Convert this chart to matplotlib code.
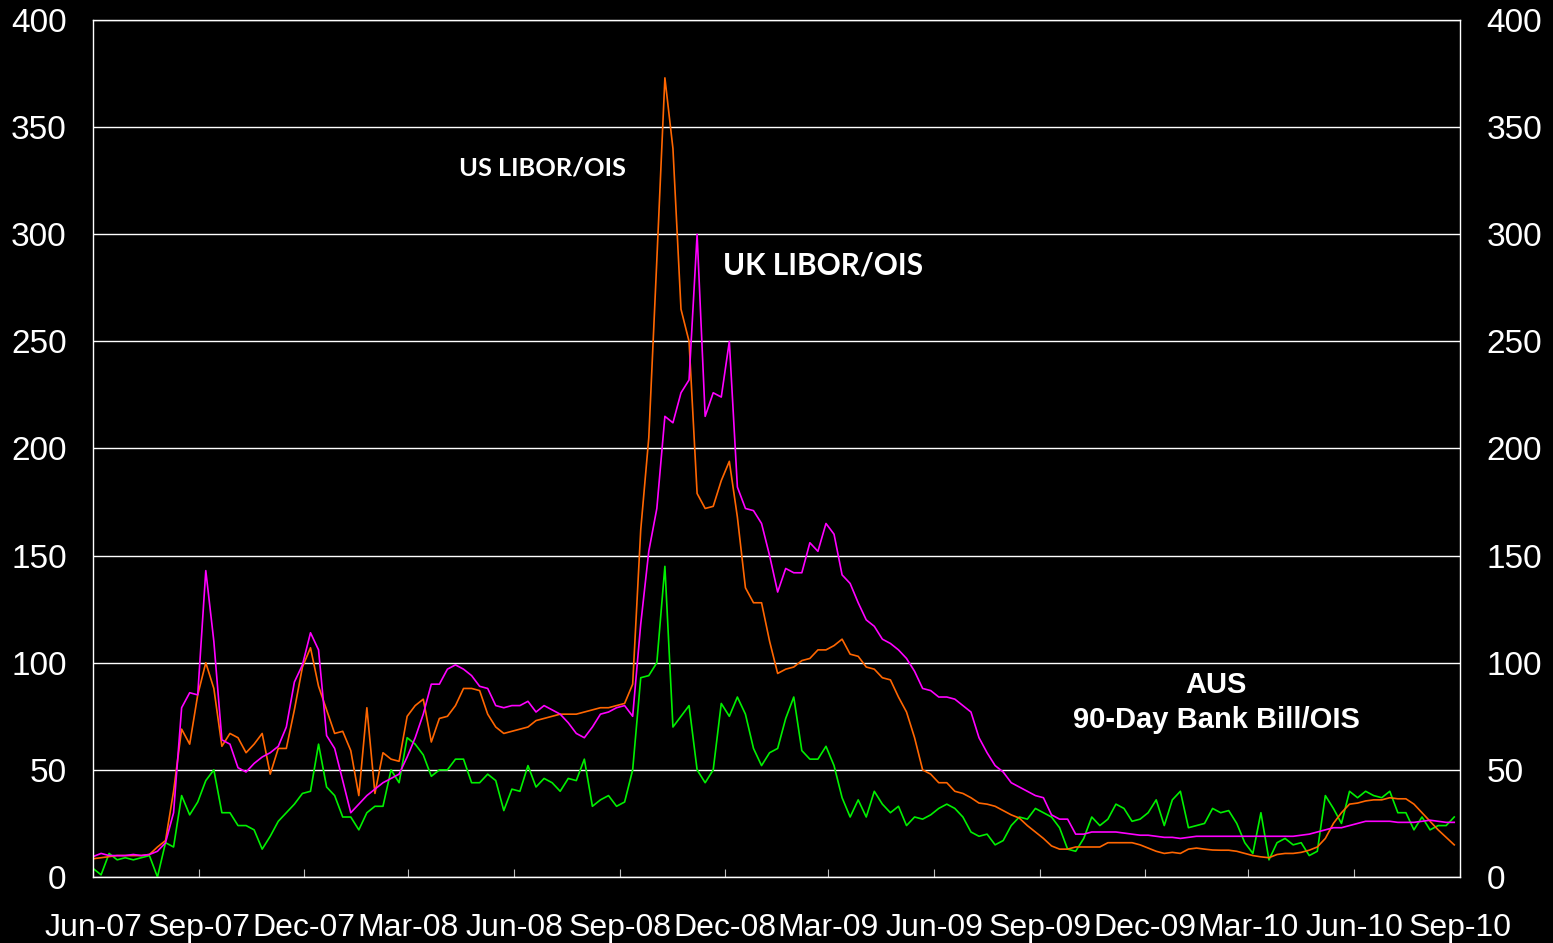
import numpy as np
import pandas as pd
import matplotlib
matplotlib.use('Agg')
import matplotlib.pyplot as plt
import matplotlib.dates as mdates

# weekly readings (bp), starting 1 Jun 2007
us_libor_ois = [8.5, 9, 9.5, 10, 10, 10, 10, 10.5, 14, 17,
                40, 69, 62, 85, 100, 88, 61, 67, 65, 58,
                62, 67, 48, 60, 60, 78, 98, 107, 89, 78,
                67, 68, 59, 38, 79, 39, 58, 55, 54, 75,
                80, 83, 63, 74, 75, 80, 88, 88, 87, 76,
                70, 67, 68, 69, 70, 73, 74, 75, 76, 76,
                76, 77, 78, 79, 79, 80, 81, 90, 162, 205,
                288, 373, 340, 265, 250, 179, 172, 173, 185, 194,
                168, 135, 128, 128, 110, 95, 97, 98, 101, 102,
                106, 106, 108, 111, 104, 103, 98, 97, 93, 92,
                84, 77, 65, 50, 48, 44, 44, 40, 39, 37,
                34.5, 34, 33, 31, 29, 27.5, 24, 21, 18, 14.5,
                13, 13, 14, 14, 14, 14, 16, 16, 16, 16,
                15, 13.5, 12, 11, 11.5, 11, 13, 13.5, 13, 12.6,
                12.5, 12.5, 12, 11, 10, 9.4, 9, 10.5, 11, 11,
                11.5, 12.5, 14, 18, 25, 30, 34, 34.5, 35.5, 36,
                36, 37, 36.5, 36.5, 34, 30, 26, 22, 18.5, 15]

uk_libor_ois = [9.5, 11, 10, 10, 10, 10.5, 10, 10.5, 12, 16,
                30, 79, 86, 85, 143, 110, 64, 62, 51, 49,
                53, 56, 58, 61, 70, 91, 99, 114, 106, 66,
                60, 45, 30, 34, 38, 41, 44, 46, 48, 56,
                65, 76, 90, 90, 97, 99, 97, 94, 89, 88,
                80, 79, 80, 80, 82, 77, 80, 78, 76, 72,
                67, 65, 70, 76, 77, 79, 80, 75, 118, 152,
                172, 215, 212, 226, 232, 300, 215, 226, 224, 250,
                182, 172, 171, 165, 150, 133, 144, 142, 142, 156,
                152, 165, 160, 141, 137, 128, 120, 117, 111, 109,
                106, 102, 96, 88, 87, 84, 84, 83, 80, 77,
                65, 58, 52, 49, 44, 42, 40, 38, 37, 29,
                27, 27, 20, 20, 21, 21, 21, 21, 20.5, 20,
                19.5, 19.5, 19, 18.5, 18.5, 18, 18.5, 19, 19, 19,
                19, 19, 19, 19, 19, 19, 19, 19, 19, 19,
                19.5, 20, 21, 22, 23, 23, 24, 25, 26, 26,
                26, 26, 25.5, 25.5, 25.5, 26, 26.5, 26, 25.5, 25.5]

aus_bill_ois = [4, 1, 11, 8, 9, 8, 9, 10, 0, 16,
                14, 38, 29, 35, 45, 50, 30, 30, 24, 24,
                22, 13, 19, 26, 30, 34, 39, 40, 62, 42,
                38, 28, 28, 22, 30, 33, 33, 50, 44, 65,
                62, 57, 47, 50, 50, 55, 55, 44, 44, 48,
                45, 31, 41, 40, 52, 42, 46, 44, 40, 46,
                45, 55, 33, 36, 38, 33, 35, 50, 93, 94,
                100, 145, 70, 75, 80, 50, 44, 50, 81, 75,
                84, 76, 60, 52, 58, 60, 74, 84, 59, 55,
                55, 61, 52, 37, 28, 36, 28, 40, 34, 30,
                33, 24, 28, 27, 29, 32, 34, 32, 28, 21,
                19, 20, 15, 17, 24, 28, 27, 32, 30, 28,
                23, 13, 12, 18, 28, 24, 27, 34, 32, 26,
                27, 30, 36, 24, 36, 40, 23, 24, 25, 32,
                30, 31, 25, 16, 11, 30, 8, 16, 18, 15,
                16, 10, 12, 38, 32, 25, 40, 37, 40, 38,
                37, 40, 30, 30, 22, 28, 22, 24, 24, 28]

dates = pd.date_range('2007-06-01', periods=len(us_libor_ois), freq='7D')

fig = plt.figure(figsize=(15.53, 9.43), dpi=100, facecolor='black')
ax = fig.add_axes([0.0599, 0.070, 0.8802, 0.9088])
ax.set_facecolor('black')

ax.plot(dates, aus_bill_ois, color='#00F000', lw=1.2)
ax.plot(dates, us_libor_ois, color='#FF6600', lw=1.2)
ax.plot(dates, uk_libor_ois, color='#FF00FF', lw=1.2)

ax.set_ylim(0, 400)
ax.set_yticks(range(0, 401, 50))
ax.set_xlim(pd.Timestamp('2007-06-01'), pd.Timestamp('2010-09-01'))
ax.xaxis.set_major_locator(mdates.MonthLocator(bymonth=[3, 6, 9, 12], bymonthday=1))
ax.xaxis.set_major_formatter(mdates.DateFormatter('%b-%y'))

ax.grid(axis='y', color='white', lw=1)
ax.set_axisbelow(True)
for s in ax.spines.values():
    s.set_color('white')
    s.set_linewidth(1)

ax.tick_params(axis='y', length=0, pad=19, labelsize=24, labelcolor='white',
               left=True, right=True, labelleft=True, labelright=True)
ax.tick_params(axis='x', direction='in', length=6, color='#C0C0C0', pad=26,
               labelsize=23, labelcolor='white')
for lbl in ax.get_yticklabels() + ax.get_xticklabels():
    lbl.set_family(['Liberation Sans', 'DejaVu Sans'])

ax.text(0.329, 0.827, 'US LIBOR/OIS', transform=ax.transAxes, ha='center', va='center',
        color='white', fontsize=18.3, fontweight='bold', family=['Lato', 'DejaVu Sans'])
ax.text(0.534, 0.713, 'UK LIBOR/OIS', transform=ax.transAxes, ha='center', va='center',
        color='white', fontsize=21.5, fontweight='bold', family=['Lato', 'DejaVu Sans'])
ax.text(0.8215, 0.224, 'AUS', transform=ax.transAxes, ha='center', va='center',
        color='white', fontsize=21, fontweight='bold', family=['Liberation Sans', 'DejaVu Sans'])
ax.text(0.8215, 0.183, '90-Day Bank Bill/OIS', transform=ax.transAxes, ha='center', va='center',
        color='white', fontsize=21, fontweight='bold', family=['Liberation Sans', 'DejaVu Sans'])

fig.savefig('out.png', dpi=100, facecolor='black')
